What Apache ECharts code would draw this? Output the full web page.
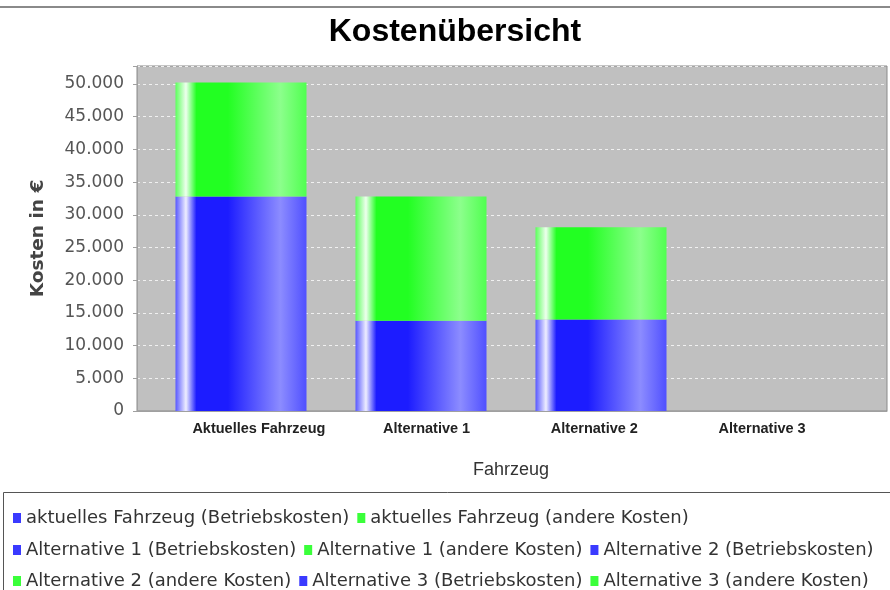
<!DOCTYPE html>
<html>
<head>
<meta charset="utf-8">
<script src="https://cdn.jsdelivr.net/npm/echarts@6/dist/echarts.min.js"></script>
<style>
  html, body { margin: 0; padding: 0; background: #fff; }
  #chart { width: 890px; height: 590px; }
</style>
</head>
<body>
<div id="chart"></div>
<script>
var categories = ['Aktuelles Fahrzeug', 'Alternative 1', 'Alternative 2', 'Alternative 3'];
var legendPrefix = ['aktuelles Fahrzeug', 'Alternative 1', 'Alternative 2', 'Alternative 3'];
var betriebskosten = [32800, 13800, 14000, 0];
var andereKosten = [17450, 19000, 14100, 0];
var yTicks = [0, 5000, 10000, 15000, 20000, 25000, 30000, 35000, 40000, 45000, 50000];
var yMax = 52760;

var blue = '#3a3aff', green = '#3aff3a';

function barGradient(c0, hi, base, light, end) {
    return new echarts.graphic.LinearGradient(0, 0, 1, 0, [
        { offset: 0, color: c0 },
        { offset: 0.08, color: hi },
        { offset: 0.16, color: base },
        { offset: 0.4, color: base },
        { offset: 0.8, color: light },
        { offset: 1, color: end }
    ]);
}
var blueFill = barGradient('#5858ff', '#eeeeff', '#1c1cff', '#8c8cff', '#5050ff');
var greenFill = barGradient('#5cff5c', '#eeffee', '#22ff22', '#8cff8c', '#50ff50');

// one pair of series per vehicle, each only filled in its own category
var series = [];
var legendNames = [];
for (var i = 0; i < categories.length; i++) {
    var b = categories.map(function (c, j) { return j === i ? betriebskosten[i] : '-'; });
    var a = categories.map(function (c, j) { return j === i ? andereKosten[i] : '-'; });
    var nb = legendPrefix[i] + ' (Betriebskosten)';
    var na = legendPrefix[i] + ' (andere Kosten)';
    legendNames.push({ name: nb, itemStyle: { color: blue } });
    legendNames.push({ name: na, itemStyle: { color: green } });
    series.push({ name: nb, type: 'bar', stack: 'kosten', xAxisIndex: 1, yAxisIndex: 1,
        barWidth: 131, data: b, itemStyle: { color: blueFill }, emphasis: { disabled: true } });
    series.push({ name: na, type: 'bar', stack: 'kosten', xAxisIndex: 1, yAxisIndex: 1,
        barWidth: 131, data: a, itemStyle: { color: greenFill }, emphasis: { disabled: true } });
}

function fmt(v) {
    return String(v).replace(/\B(?=(\d{3})+(?!\d))/g, '.');
}

var legendRow = function (items, top) {
    return {
        data: items, left: 8, top: top, orient: 'horizontal',
        icon: 'rect', itemWidth: 8, itemHeight: 10, itemGap: 8,
        selectedMode: false,
        textStyle: { fontFamily: 'DejaVu Sans', fontSize: 18, color: '#333' }
    };
};

var chart = echarts.init(document.getElementById('chart'), null, { renderer: 'canvas' });
chart.setOption({
    animation: false,
    backgroundColor: '#fff',
    legend: [
        legendRow(legendNames.slice(0, 2), 504),
        legendRow(legendNames.slice(2, 5), 536),
        legendRow(legendNames.slice(5, 8), 567)
    ],
    grid: [
        { left: 137, right: 3, top: 66, bottom: 179, show: true,
          backgroundColor: '#c0c0c0', borderColor: '#8a8a8a', borderWidth: 1 },
        { left: 151, right: 19, top: 66, bottom: 179 },
        { left: 175, right: 44, top: 66, bottom: 179 }
    ],
    xAxis: [
        { gridIndex: 0, type: 'value', min: 0, max: 1, position: 'bottom', offset: 3,
          axisLine: { show: true, lineStyle: { color: '#a0a0a0' } },
          axisTick: { show: false }, axisLabel: { show: false }, splitLine: { show: false } },
        { gridIndex: 1, type: 'category', data: categories,
          axisLine: { show: false }, axisTick: { show: false }, axisLabel: { show: false },
          name: 'Fahrzeug', nameLocation: 'middle', nameGap: 50,
          nameTextStyle: { fontFamily: 'Liberation Sans', fontSize: 18, color: '#333' } },
        { gridIndex: 2, type: 'category', data: categories,
          axisLine: { show: false }, axisTick: { show: false },
          axisLabel: { interval: 0, margin: 10, fontFamily: 'Liberation Sans', fontWeight: 'bold', fontSize: 14.5, color: '#222' } }
    ],
    yAxis: [
        { gridIndex: 0, type: 'value', min: 0, max: yMax, interval: 5000, offset: 5,
          axisLine: { show: true, lineStyle: { color: '#a0a0a0' } },
          axisTick: { show: true, length: 4, lineStyle: { color: '#a0a0a0' } },
          axisLabel: { margin: 8, fontFamily: 'DejaVu Sans', fontSize: 17, color: '#555',
              formatter: function (v) { return yTicks.indexOf(v) >= 0 ? fmt(v) : ''; } },
          splitLine: { show: true, lineStyle: { color: '#f0f0f0', type: [3, 3], width: 1 } },
          name: 'Kosten in €', nameLocation: 'middle', nameGap: 84,
          nameTextStyle: { fontFamily: 'DejaVu Sans', fontWeight: 'bold', fontSize: 18.5, color: '#444' } },
        { gridIndex: 1, type: 'value', min: 0, max: yMax, show: false, splitLine: { show: false } },
        { gridIndex: 2, type: 'value', min: 0, max: yMax, show: false, splitLine: { show: false } }
    ],
    graphic: [
        { type: 'line', shape: { x1: 0, y1: 7, x2: 890, y2: 7 }, style: { stroke: '#8a8a8a', lineWidth: 2 } },
        { type: 'text', x: 455, y: 32,
          style: { text: 'Kostenübersicht', textAlign: 'center', textVerticalAlign: 'middle',
                   font: 'bold 32px "Liberation Sans", Arial, sans-serif', fill: '#000' } },
        { type: 'rect', shape: { x: 3.5, y: 492.5, width: 890, height: 100 }, style: { fill: null, stroke: '#555', lineWidth: 1 } }
    ],
    series: series
});
</script>
</body>
</html>
